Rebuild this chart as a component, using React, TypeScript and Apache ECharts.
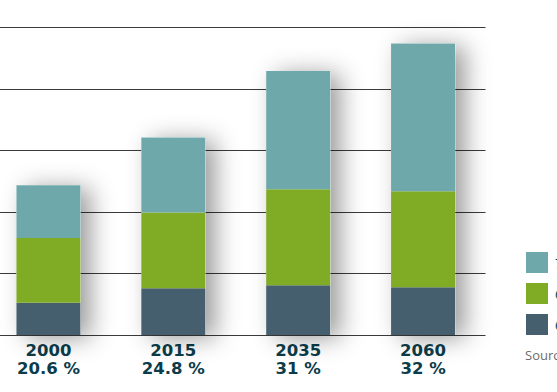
import React, { useEffect, useRef } from "react";
import * as echarts from "echarts";

const years = ["2000", "2015", "2035", "2060"];
const shares = ["20.6 %", "24.8 %", "31 %", "32 %"];
const seriesNames = ["75+", "65–74", "60–64"];
const topValues = [8.6, 12.2, 19.2, 24.0];
const midValues = [10.5, 12.3, 15.6, 15.6];
const baseValues = [5.25, 7.6, 8.1, 7.75];
const colors = ["#6fa8ab", "#7fab25", "#465f6e"];

const SHIFT = 14;

export default function App() {
  const ref = useRef<HTMLDivElement>(null);
  useEffect(() => {
    if (!ref.current) return;
    const chart = echarts.init(ref.current, undefined, { renderer: "svg" });
    const totals = years.map((_, i) => baseValues[i] + midValues[i] + topValues[i]);
    const segStyle = (c: string) => ({ color: c });
    chart.setOption({
      animation: false,
      grid: { left: 0, right: 71.5, top: 27.3, bottom: 57 },
      legend: {
        orient: "vertical",
        left: 526 + SHIFT,
        top: 252,
        padding: 0,
        itemWidth: 22,
        itemHeight: 21,
        itemGap: 10,
        icon: "rect",
        data: seriesNames,
        textStyle: { color: "#0b3c4a", fontFamily: "Open Sans", fontSize: 13, padding: [0, 0, 0, 2] },
      },
      graphic: [
        {
          type: "text",
          left: 525 + SHIFT,
          top: 348,
          style: { text: "Source: Statistics", fill: "#6b6b6b", font: "13px 'Open Sans'" },
        },
      ],
      xAxis: {
        type: "category",
        data: years,
        axisLine: { show: false },
        axisTick: { show: false },
        axisLabel: {
          margin: 6,
          interval: 0,
          formatter: (v: string, i: number) => `{a|${v}}\n{a|${shares[i]}}`,
          rich: {
            a: {
              color: "#0b3c4a",
              fontFamily: "DejaVu Sans",
              fontWeight: "bold",
              fontSize: 16.5,
              lineHeight: 18,
            },
          },
        },
      },
      yAxis: {
        type: "value",
        min: 0,
        max: 50,
        interval: 10,
        axisLabel: { show: false },
        axisLine: { show: false },
        axisTick: { show: false },
        splitLine: { lineStyle: { color: "#3a3a3a", width: 1 } },
      },
      series: [
        {
          name: "shadow",
          type: "bar",
          data: totals,
          barWidth: 64,
          silent: true,
          itemStyle: {
            color: "#ffffff",
            shadowColor: "rgba(0,0,0,0.4)",
            shadowBlur: 24,
            shadowOffsetX: 10,
            shadowOffsetY: 3,
          },
          z: 1,
        },
        {
          name: seriesNames[2],
          type: "bar",
          stack: "s",
          data: baseValues,
          barWidth: 64,
          barGap: "-100%",
          itemStyle: segStyle(colors[2]),
          z: 3,
        },
        {
          name: seriesNames[1],
          type: "bar",
          stack: "s",
          data: midValues,
          barWidth: 64,
          barGap: "-100%",
          itemStyle: segStyle(colors[1]),
          z: 3,
        },
        {
          name: seriesNames[0],
          type: "bar",
          stack: "s",
          data: topValues,
          barWidth: 64,
          barGap: "-100%",
          itemStyle: segStyle(colors[0]),
          z: 3,
        },
      ],
    });
    return () => chart.dispose();
  }, []);
  return (
    <div
      ref={ref}
      style={{ position: "fixed", left: -SHIFT, top: 0, width: 557 + SHIFT, height: 392, background: "#fff" }}
    />
  );
}
